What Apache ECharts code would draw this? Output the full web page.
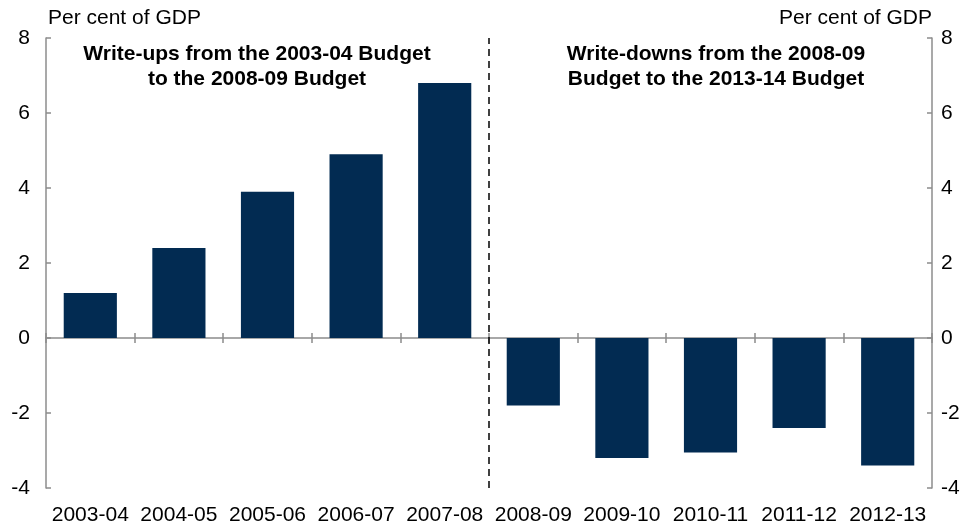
<!DOCTYPE html>
<html>
<head>
<meta charset="utf-8">
<script src="https://cdn.jsdelivr.net/npm/echarts@6/dist/echarts.min.js"></script>
<style>
  html, body { margin: 0; padding: 0; background: #fff; }
  #chart { width: 972px; height: 528px; }
</style>
</head>
<body>
<div id="chart"></div>
<script>
// Budget-year categories, split into the write-up period and the write-down period
const upYears = ['2003-04', '2004-05', '2005-06', '2006-07', '2007-08'];
const downYears = ['2008-09', '2009-10', '2010-11', '2011-12', '2012-13'];
const categories = upYears.concat(downYears);

// Revisions, per cent of GDP
const upValues = [1.2, 2.4, 3.9, 4.9, 6.8];
const downValues = [-1.8, -3.2, -3.05, -2.4, -3.4];
const values = upValues.concat(downValues);

// Value axis ticks
const yMin = -4, yMax = 8, yStep = 2;

const FONT = '"Liberation Sans", Arial, sans-serif';
const AXIS_GREY = '#8c8c8c';
const BAR_BLUE = '#022b52';

const chart = echarts.init(document.getElementById('chart'), null, { renderer: 'canvas' });

// Divider sits on the boundary between the two periods
const boundary = upYears.length;

const yAxisCommon = {
  type: 'value',
  min: yMin,
  max: yMax,
  interval: yStep,
  splitLine: { show: false },
  axisLine: { show: true, onZero: false, lineStyle: { color: AXIS_GREY, width: 1.5 } },
  axisTick: { show: true, inside: true, length: 5, lineStyle: { color: AXIS_GREY, width: 1.5 } },
  axisLabel: { color: '#000', fontSize: 21, fontFamily: FONT }
};

chart.setOption({
  animation: false,
  grid: { left: 46, right: 40, top: 38, bottom: 40 },
  xAxis: [
    {
      // labels along the bottom
      type: 'category',
      data: categories,
      position: 'bottom',
      axisLine: { show: false, onZero: false },
      axisTick: { show: false },
      axisLabel: { color: '#000', fontSize: 21, fontFamily: FONT, margin: 17, interval: 0 }
    },
    {
      // zero line with downward ticks
      type: 'category',
      data: categories,
      position: 'bottom',
      axisLine: { show: true, onZero: true, onZeroAxisIndex: 0, lineStyle: { color: AXIS_GREY, width: 1.5 } },
      axisTick: { show: true, length: 5, interval: 0, lineStyle: { color: AXIS_GREY, width: 1.5 } },
      axisLabel: { show: false }
    },
    {
      // upward ticks on the zero line
      type: 'category',
      data: categories,
      position: 'top',
      axisLine: { show: false, onZero: true, onZeroAxisIndex: 0 },
      axisTick: { show: true, length: 5, interval: 0, lineStyle: { color: AXIS_GREY, width: 1.5 } },
      axisLabel: { show: false }
    },
    {
      // continuous scale over the categories, used for the period divider
      type: 'value',
      min: 0,
      max: categories.length,
      show: false
    }
  ],
  yAxis: [
    Object.assign({}, yAxisCommon, {
      position: 'left',
      axisLabel: Object.assign({}, yAxisCommon.axisLabel, { margin: 16 })
    }),
    Object.assign({}, yAxisCommon, {
      position: 'right',
      axisLabel: Object.assign({}, yAxisCommon.axisLabel, { margin: 9 })
    })
  ],
  series: [
    {
      type: 'bar',
      xAxisIndex: 0,
      yAxisIndex: 0,
      data: values,
      barWidth: '60%',
      itemStyle: { color: BAR_BLUE },
      z: 1
    },
    {
      type: 'line',
      xAxisIndex: 3,
      yAxisIndex: 0,
      data: [[boundary, yMin], [boundary, yMax]],
      symbol: 'none',
      silent: true,
      lineStyle: { color: '#000', width: 1.5, type: [7, 5] },
      z: 3
    }
  ],
  graphic: [
    {
      type: 'text', left: 48, top: 8,
      style: { text: 'Per cent of GDP', fill: '#000', font: '21px ' + FONT }
    },
    {
      type: 'text', right: 40, top: 8,
      style: { text: 'Per cent of GDP', fill: '#000', font: '21px ' + FONT, textAlign: 'right' }
    },
    {
      type: 'text', x: 257, y: 42,
      style: {
        text: 'Write-ups from the 2003-04 Budget\nto the 2008-09 Budget',
        fill: '#000', font: 'bold 21px ' + FONT, textAlign: 'center', lineHeight: 25
      }
    },
    {
      type: 'text', x: 716, y: 42,
      style: {
        text: 'Write-downs from the 2008-09\nBudget to the 2013-14 Budget',
        fill: '#000', font: 'bold 21px ' + FONT, textAlign: 'center', lineHeight: 25
      }
    }
  ]
});
</script>
</body>
</html>
